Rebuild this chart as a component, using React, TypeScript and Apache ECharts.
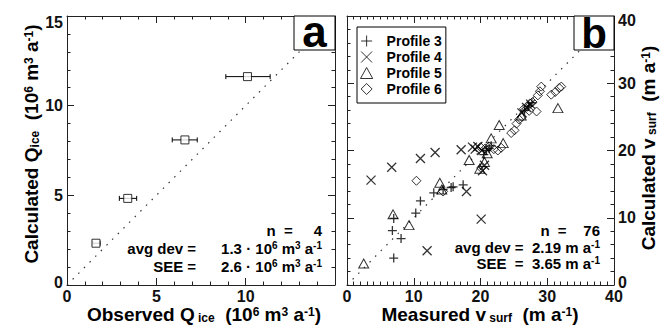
import React, { useEffect, useRef } from 'react';
import * as echarts from 'echarts';

// Panel a: ice discharge
const obsQ = [1.62, 3.4, 6.6, 10.1];
const calcQ = [2.33, 4.83, 8.09, 11.62];
const obsQLow = [1.44, 2.93, 5.89, 8.89];
const obsQHigh = [1.85, 3.9, 7.29, 11.37];

// Panel b: surface velocities [measured, calculated]
const profile3 = [
  [7.0, 4.0], [6.8, 8.1], [8.1, 6.9], [7.0, 9.9], [10.3, 10.7], [11.0, 12.5], [13.0, 13.7],
  [14.4, 14.2], [15.6, 14.5], [15.9, 14.6], [17.4, 14.9], [20.5, 19.4], [20.9, 20.0],
  [21.3, 20.3], [21.6, 20.7], [26.6, 26.0], [27.2, 26.6], [27.7, 27.1],
];
const profile4 = [
  [3.6, 15.6], [6.7, 17.5], [11.0, 18.8], [13.2, 19.7], [12.0, 5.1], [20.1, 9.8], [17.9, 13.9],
  [17.1, 20.1], [18.8, 20.5], [19.2, 20.2], [19.6, 20.6], [20.2, 20.0], [20.3, 17.0],
  [20.6, 17.8], [26.2, 25.6], [26.9, 26.4], [27.5, 26.9],
];
const profile5 = [
  [2.5, 3.2], [6.9, 10.5], [9.3, 8.9], [13.9, 15.2], [14.2, 14.2], [18.3, 18.6], [19.9, 17.3],
  [20.6, 18.3], [21.6, 21.8], [22.8, 23.8], [23.4, 21.1], [31.6, 26.3], [26.1, 25.2], [21.0, 19.6],
];
const profile6 = [
  [10.4, 15.5], [14.4, 13.9], [20.0, 20.5], [20.7, 20.3], [21.3, 20.6], [22.0, 20.2], [22.6, 20.0],
  [23.1, 20.4], [20.1, 17.4], [24.6, 22.6], [25.1, 23.0], [25.4, 24.0], [25.8, 24.6], [26.2, 25.0],
  [26.5, 26.2], [27.0, 26.5], [27.4, 27.0], [27.8, 27.2], [27.3, 25.9], [28.4, 25.8], [28.6, 28.2],
  [28.9, 28.8], [29.1, 29.5], [31.2, 28.7], [31.8, 29.3], [32.1, 29.5], [30.6, 28.3],
];
const profileNames = ['Profile 3', 'Profile 4', 'Profile 5', 'Profile 6'];
const oneToOneA = [[0, 0], [15, 15]];
const oneToOneB = [[0, 0], [40, 40]];

const statsA = ['n  =     4', 'avg dev =      1.3 · 10', 'SEE =      2.6 · 10'];
const statsB = ['n  =    76', 'avg dev =  2.19 m a', 'SEE  =  3.65 m a'];

const FONT = '"Liberation Sans", Arial, Helvetica, sans-serif';
const AX = '#222';

const rich = {
  t: { fontSize: 19, fontWeight: 'bold', fontFamily: FONT, lineHeight: 18, verticalAlign: 'bottom', fill: '#000' },
  sub: { fontSize: 12, fontWeight: 'bold', fontFamily: FONT, lineHeight: 11, verticalAlign: 'bottom', fill: '#000' },
  sup: { fontSize: 12, fontWeight: 'bold', fontFamily: FONT, lineHeight: 11, verticalAlign: 'top', fill: '#000' },
  s: { fontSize: 15, fontWeight: 'bold', fontFamily: FONT, lineHeight: 15, verticalAlign: 'bottom', fill: '#000' },
  ss: { fontSize: 10, fontWeight: 'bold', fontFamily: FONT, lineHeight: 9, verticalAlign: 'top', fill: '#000' },
};

const labelFont = { fontSize: 16, fontWeight: 'bold', fontFamily: FONT, color: '#111', lineHeight: 10 };

function axisBase(min: number, max: number, interval: number, minorSplit: number, showLabel: boolean, gridIndex: number, position: string, hideMax?: boolean) {
  const horizontal = position === 'bottom' || position === 'top';
  return {
    type: 'value',
    gridIndex,
    position,
    min,
    max,
    interval,
    axisLine: { show: true, onZero: false, lineStyle: { color: AX, width: 1 } },
    axisTick: { show: true, inside: true, length: 7, lineStyle: { color: AX, width: 1 } },
    minorTick: { show: true, splitNumber: minorSplit, length: 3.5, lineStyle: { color: AX, width: 1 } },
    splitLine: { show: false },
    minorSplitLine: { show: false },
    axisLabel: {
      show: showLabel,
      margin: horizontal ? 6.5 : 4,
      formatter: (v: number) => {
        if (hideMax && v === max) return '';
        if (!horizontal && v === min) return `{lo|${v}}`;
        if (!horizontal && v === max) return `{hi|${v}}`;
        return `{v|${v}}`;
      },
      rich: {
        v: { ...labelFont },
        lo: { ...labelFont, padding: [0, 0, 5, 0] },
        hi: { ...labelFont, padding: [max === 15 ? 12 : 9, 0, 0, 0] },
      },
    },
  };
}

const plusPath = 'path://M5,0L5,10M0,5L10,5';
const crossPath = 'path://M0,0L10,10M0,10L10,0';
const trianglePath = 'path://M5,0L10,9L0,9Z';
const diamondPath = 'path://M5,0L10,5L5,10L0,5Z';

export default function App() {
  const ref = useRef<HTMLDivElement>(null);
  useEffect(() => {
    if (!ref.current) return;
    const chart = echarts.init(ref.current, null, { renderer: 'svg' });
    const outline = { color: 'none', borderColor: '#000', borderWidth: 1 };
    const option: any = {
      animation: false,
      backgroundColor: '#fff',
      grid: [
        { left: 67, top: 16, width: 268, height: 269 },
        { left: 347, top: 16, width: 267, height: 269 },
      ],
      xAxis: [
        axisBase(0, 15, 5, 5, true, 0, 'bottom', true),
        axisBase(0, 15, 5, 5, false, 0, 'top'),
        axisBase(0, 40, 10, 10, true, 1, 'bottom'),
        axisBase(0, 40, 10, 10, false, 1, 'top'),
      ],
      yAxis: [
        axisBase(0, 15, 5, 5, true, 0, 'left'),
        axisBase(0, 15, 5, 5, false, 0, 'right'),
        axisBase(0, 40, 10, 5, true, 1, 'right'),
        axisBase(0, 40, 10, 5, false, 1, 'left'),
      ],
      legend: {
        show: true,
        orient: 'vertical',
        left: 357,
        top: 27,
        itemWidth: 30,
        itemHeight: 11,
        itemGap: 0,
        symbolKeepAspect: true,
        padding: [6, 4, 6, 1],
        borderColor: '#000',
        borderWidth: 1,
        backgroundColor: '#fff',
        selectedMode: false,
        data: profileNames,
        itemStyle: { color: 'none', borderColor: '#000', borderWidth: 1 },
        formatter: (name: string) => `{p|${name}}`,
        textStyle: {
          fontSize: 14, fontWeight: 'bold', fontFamily: FONT, color: '#000',
          rich: { p: { fontSize: 14, fontWeight: 'bold', fontFamily: FONT, color: '#000', lineHeight: 13 } },
        },
        z: 50,
      },
      series: [
        {
          type: 'line', xAxisIndex: 0, yAxisIndex: 0, data: oneToOneA, symbol: 'none', silent: true,
          lineStyle: { color: '#333', width: 1.2, type: [1.5, 6.5] }, z: 1,
        },
        {
          type: 'custom', xAxisIndex: 0, yAxisIndex: 0,
          data: obsQ.map((_, i) => [obsQLow[i], obsQHigh[i], calcQ[i]]),
          encode: { x: [0, 1], y: 2 },
          renderItem: (params: any, api: any) => {
            const lo = api.coord([api.value(0), api.value(2)]);
            const hi = api.coord([api.value(1), api.value(2)]);
            const h = 2.5;
            const st = { stroke: '#000', lineWidth: 1 };
            return {
              type: 'group',
              children: [
                { type: 'line', shape: { x1: lo[0], y1: lo[1], x2: hi[0], y2: hi[1] }, style: st },
                { type: 'line', shape: { x1: lo[0], y1: lo[1] - h, x2: lo[0], y2: lo[1] + h }, style: st },
                { type: 'line', shape: { x1: hi[0], y1: hi[1] - h, x2: hi[0], y2: hi[1] + h }, style: st },
              ],
            };
          },
          z: 3,
        },
        {
          type: 'scatter', xAxisIndex: 0, yAxisIndex: 0,
          data: obsQ.map((v, i) => [v, calcQ[i]]),
          symbol: 'rect', symbolSize: 8,
          itemStyle: { color: '#fff', borderColor: '#000', borderWidth: 1 },
          z: 4,
        },
        {
          type: 'line', xAxisIndex: 2, yAxisIndex: 2, data: oneToOneB, symbol: 'none', silent: true,
          lineStyle: { color: '#333', width: 1.2, type: [1.5, 6.5] }, z: 1,
        },
        {
          name: profileNames[0], type: 'scatter', xAxisIndex: 2, yAxisIndex: 2, data: profile3,
          symbol: plusPath, symbolSize: 9, itemStyle: { ...outline, borderWidth: 1.3 }, z: 4,
        },
        {
          name: profileNames[1], type: 'scatter', xAxisIndex: 2, yAxisIndex: 2, data: profile4,
          symbol: crossPath, symbolSize: 9, itemStyle: { ...outline, borderWidth: 1.3 }, z: 4,
        },
        {
          name: profileNames[2], type: 'scatter', xAxisIndex: 2, yAxisIndex: 2, data: profile5,
          symbol: trianglePath, symbolSize: [10, 9], itemStyle: outline, z: 4,
        },
        {
          name: profileNames[3], type: 'scatter', xAxisIndex: 2, yAxisIndex: 2, data: profile6,
          symbol: diamondPath, symbolSize: 9, itemStyle: outline, z: 4,
        },
      ],
      graphic: [
        { type: 'rect', z: 100, shape: { x: 294, y: 16, width: 41, height: 34 }, style: { fill: '#fff', stroke: '#000', lineWidth: 1 } },
        { type: 'text', z: 101, x: 314.5, y: 31, style: { text: 'a', font: `bold 44px ${FONT}`, fill: '#000', align: 'center', verticalAlign: 'middle' } },
        { type: 'rect', z: 100, shape: { x: 574, y: 16, width: 40, height: 34 }, style: { fill: '#fff', stroke: '#000', lineWidth: 1 } },
        { type: 'text', z: 101, x: 594, y: 33, style: { text: 'b', font: `bold 42px ${FONT}`, fill: '#000', align: 'center', verticalAlign: 'middle' } },
        // stats panel a
        { type: 'text', z: 101, x: 322, y: 230, style: { text: `{s|${statsA[0]}}`, rich, align: 'right', verticalAlign: 'middle' } },
        { type: 'text', z: 101, x: 322, y: 248, style: { text: `{s|${statsA[1]}}{ss|6}{s| m}{ss|3}{s| a}{ss|-1}`, rich, align: 'right', verticalAlign: 'middle' } },
        { type: 'text', z: 101, x: 322, y: 266, style: { text: `{s|${statsA[2]}}{ss|6}{s| m}{ss|3}{s| a}{ss|-1}`, rich, align: 'right', verticalAlign: 'middle' } },
        // stats panel b
        { type: 'text', z: 101, x: 600, y: 230, style: { text: `{s|${statsB[0]}}`, rich, align: 'right', verticalAlign: 'middle' } },
        { type: 'text', z: 101, x: 600, y: 247, style: { text: `{s|${statsB[1]}}{ss|-1}`, rich, align: 'right', verticalAlign: 'middle' } },
        { type: 'text', z: 101, x: 600, y: 263, style: { text: `{s|${statsB[2]}}{ss|-1}`, rich, align: 'right', verticalAlign: 'middle' } },
        // axis titles
        { type: 'text', z: 101, x: 204, y: 315, style: { text: '{t|Observed Q}{sub| ice}{t|  (10}{sup|6}{t| m}{sup|3}{t| a}{sup|-1}{t|)}', rich, align: 'center', verticalAlign: 'middle' } },
        { type: 'text', z: 101, x: 480, y: 315, style: { text: '{t|Measured v}{sub| surf}{t|  (m a}{sup|-1}{t|)}', rich, align: 'center', verticalAlign: 'middle' } },
        { type: 'text', z: 101, x: 32, y: 144, rotation: Math.PI / 2, style: { text: '{t|Calculated Q}{sub|ice}{t|  (10}{sup|6}{t| m}{sup|3}{t| a}{sup|-1}{t|)}', rich, align: 'center', verticalAlign: 'middle' } },
        { type: 'text', z: 101, x: 649, y: 148, rotation: Math.PI / 2, style: { text: '{t|Calculated v}{sub| surf}{t|  (m a}{sup|-1}{t|)}', rich, align: 'center', verticalAlign: 'middle' } },
      ],
    };
    chart.setOption(option);
    return () => chart.dispose();
  }, []);
  return <div ref={ref} style={{ position: 'fixed', left: 0, top: 0, width: 669, height: 325 }} />;
}
